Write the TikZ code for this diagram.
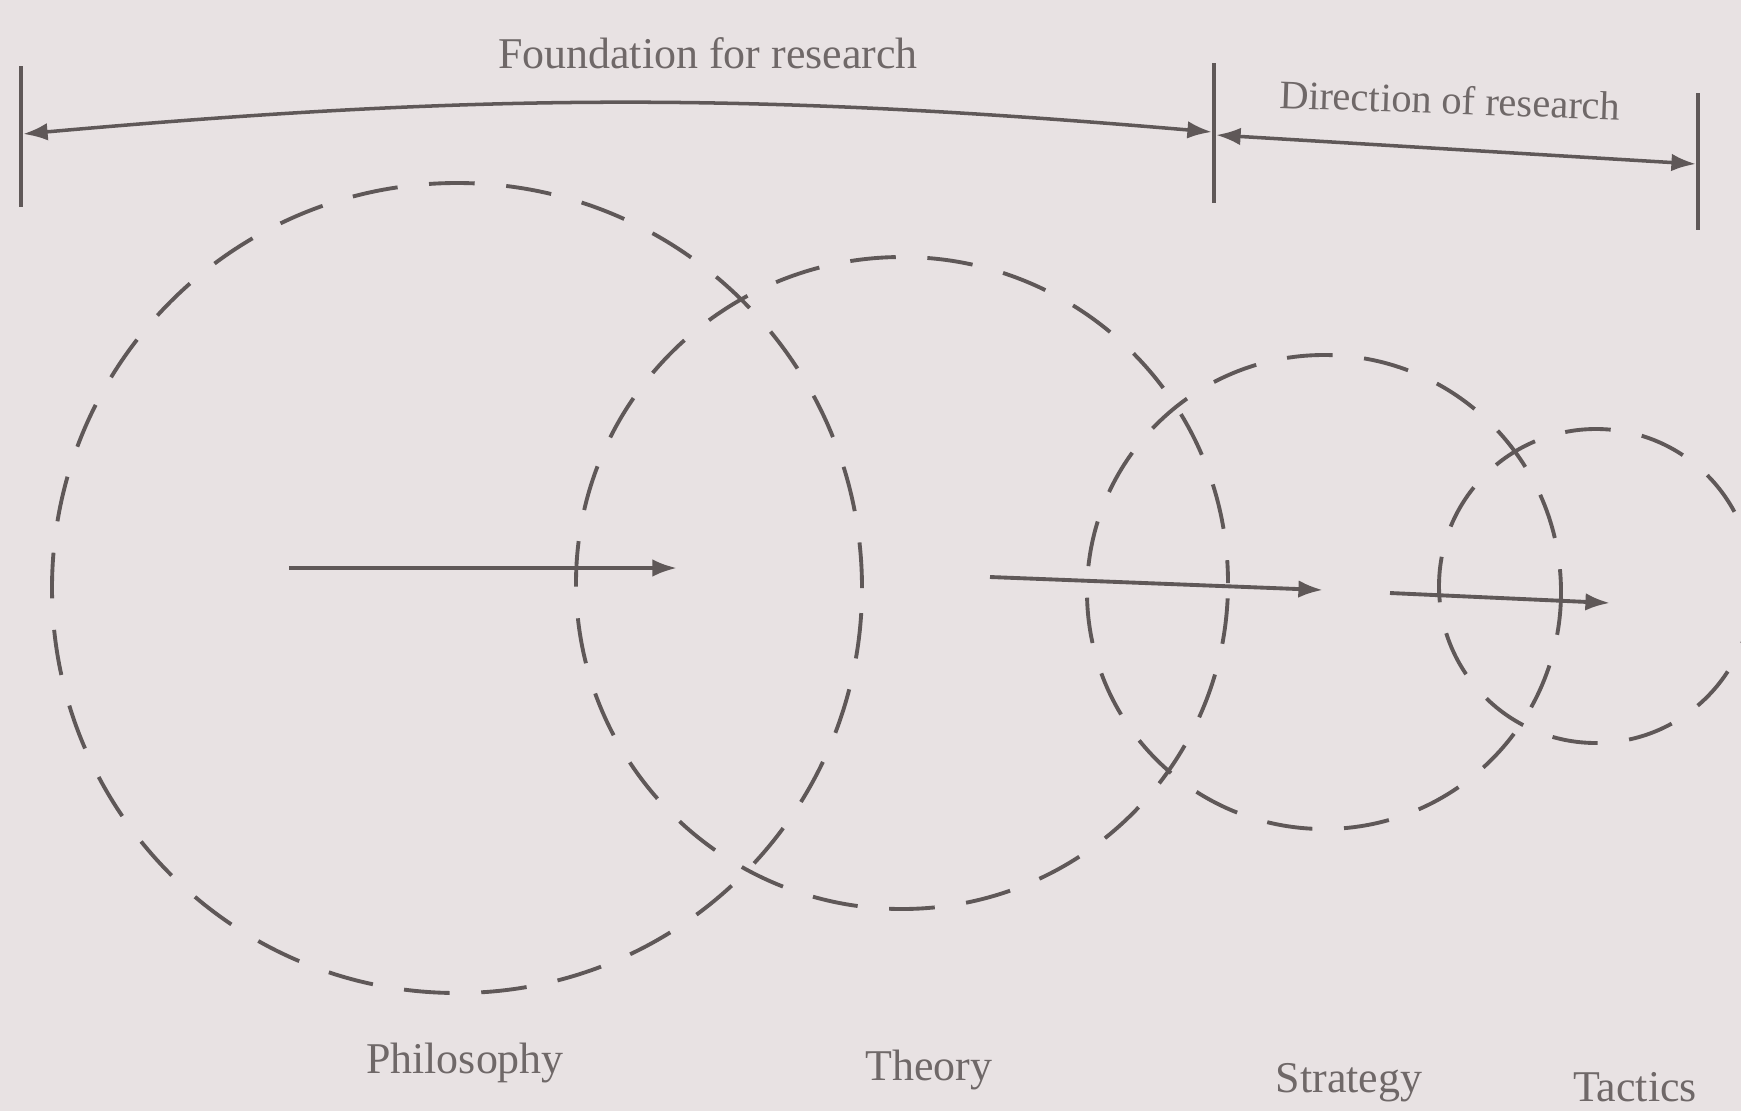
\documentclass[tikz,border=0pt]{standalone}
\usepackage{fontspec}
\setmainfont{Liberation Serif}
\usetikzlibrary{arrows.meta}

\definecolor{paper}{HTML}{E8E2E3}
\definecolor{ink}{HTML}{5F5858}
\definecolor{inktext}{HTML}{6F6868}

\tikzset{
  >={Latex[length=7pt,width=5pt]},
  stage/.style={circle, draw=ink, line width=1.1pt, dash pattern=on 13pt off 9pt, inner sep=0pt},
  flow/.style={->, draw=ink, line width=1.1pt},
  span/.style={<->, draw=ink, line width=1pt},
  bar/.style={draw=ink, line width=1pt},
  caption/.style={text=inktext, font=\fontsize{12.5}{14}\selectfont}
}

\begin{document}
\begin{tikzpicture}
    % Page
    \fill[paper] (0,0) rectangle (17.41,-11.11);
    \useasboundingbox (0,0) rectangle (17.41,-11.11);

    % Stages
    \node[stage, minimum size=8.10cm] (philosophy) at (4.57,-5.88) {};
    \node[stage, minimum size=6.52cm, dash phase=6.5pt] (theory) at (9.02,-5.83) {};
    \node[stage, minimum size=4.74cm, dash phase=6.5pt] (strategy) at (13.24,-5.92) {};
    \node[stage, minimum size=3.14cm] (tactics) at (15.96,-5.86) {};

    % Stage names
    \node[caption] (philosophy-label) at (4.65,-10.63) {Philosophy};
    \node[caption] (theory-label) at (9.29,-10.70) {Theory};
    \node[caption] (strategy-label) at (13.49,-10.83) {Strategy};
    \node[caption] (tactics-label) at (16.35,-10.87) {Tactics};

    % Flow arrows
    \coordinate (flow-a-start) at (2.89,-5.68);
    \coordinate (flow-a-end) at (6.77,-5.68);
    \coordinate (flow-b-start) at (9.90,-5.77);
    \coordinate (flow-b-end) at (13.23,-5.90);
    \coordinate (flow-c-start) at (13.90,-5.93);
    \coordinate (flow-c-end) at (16.10,-6.03);
    \draw[flow] (flow-a-start) -- (flow-a-end);
    \draw[flow] (flow-b-start) -- (flow-b-end);
    \draw[flow] (flow-c-start) -- (flow-c-end);

    % Bars
    \coordinate (bar-left-top) at (0.21,-0.66);
    \coordinate (bar-left-bot) at (0.21,-2.07);
    \coordinate (bar-mid-top) at (12.14,-0.63);
    \coordinate (bar-mid-bot) at (12.14,-2.03);
    \coordinate (bar-right-top) at (16.98,-0.93);
    \coordinate (bar-right-bot) at (16.98,-2.30);
    \draw[bar] (bar-left-top) -- (bar-left-bot);
    \draw[bar] (bar-mid-top) -- (bar-mid-bot);
    \draw[bar] (bar-right-top) -- (bar-right-bot);

    % Spans
    \coordinate (found-start) at (0.23,-1.34);
    \coordinate (found-end) at (12.12,-1.32);
    \coordinate (dir-start) at (12.16,-1.35);
    \coordinate (dir-end) at (16.96,-1.64);
    \draw[span] (found-start) to[bend left=5] (found-end);
    \draw[span] (dir-start) -- (dir-end);
    \node[caption] (found-label) at (7.08,-0.53) {Foundation for research};
    \node[caption, font=\fontsize{11.5}{13}\selectfont, rotate=-2] (dir-label) at (14.50,-1.00) {Direction of research};
\end{tikzpicture}
\end{document}
